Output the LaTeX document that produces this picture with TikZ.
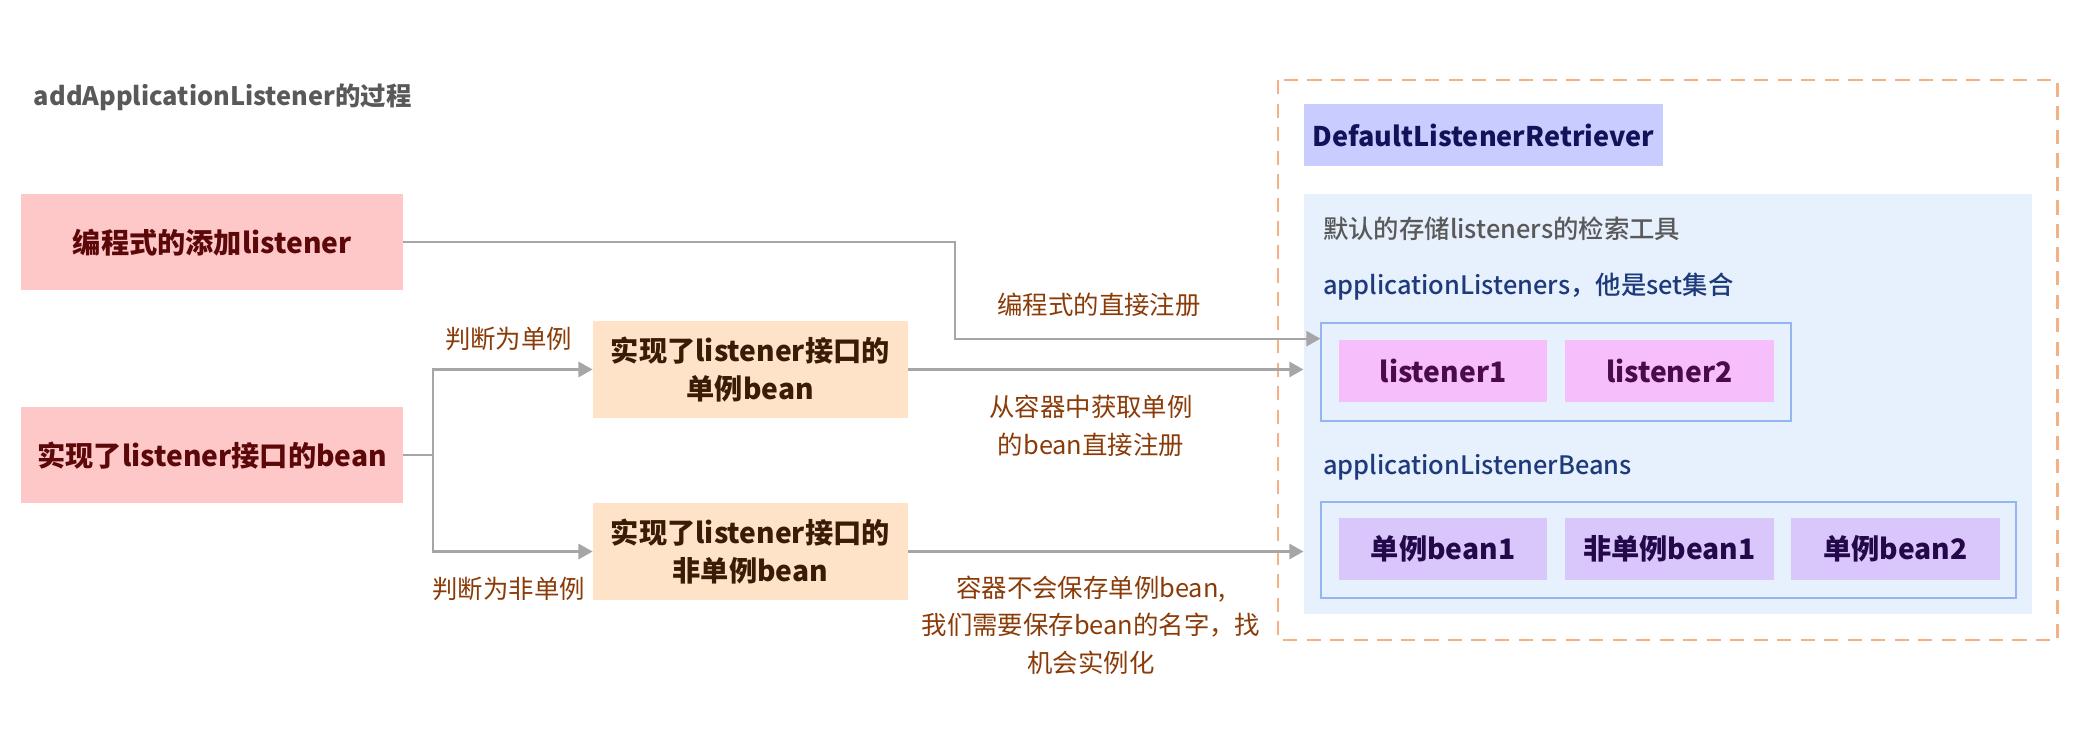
\documentclass[tikz,border=0pt]{standalone}
\usepackage{fontspec}
\setmainfont{Noto Sans CJK SC}
\newfontfamily\medfont{Noto Sans CJK SC Medium}
\usetikzlibrary{arrows.meta}

\definecolor{srcpink}{HTML}{FFC8C8}
\definecolor{srctext}{HTML}{5C0808}
\definecolor{beanpeach}{HTML}{FFE3C9}
\definecolor{beantext}{HTML}{3A1C06}
\definecolor{lblbrown}{HTML}{8A3B08}
\definecolor{wiregray}{HTML}{A6A6A6}
\definecolor{frameorange}{HTML}{F4B183}
\definecolor{retrfill}{HTML}{C9CCFF}
\definecolor{retrtext}{HTML}{12125A}
\definecolor{storefill}{HTML}{E7F0FD}
\definecolor{setborder}{HTML}{93B6F2}
\definecolor{lsnfill}{HTML}{F7BEFC}
\definecolor{lsntext}{HTML}{4B0A4B}
\definecolor{itemfill}{HTML}{D9C7FB}
\definecolor{itemtext}{HTML}{23084A}
\definecolor{notegray}{HTML}{595959}
\definecolor{fieldnavy}{HTML}{1D3A7A}

\tikzset{
  boxfont/.style={font=\fontsize{12}{16.5}\selectfont\bfseries},
  lblfont/.style={font=\fontsize{10.8}{15.9}\selectfont},
  srcbox/.style={boxfont,fill=srcpink,text=srctext,minimum width=5.7cm,minimum height=1.44cm,align=center},
  beanbox/.style={boxfont,fill=beanpeach,text=beantext,minimum width=4.7cm,minimum height=1.44cm,align=center},
  itembox/.style={boxfont,minimum width=3.12cm,minimum height=0.92cm},
  setbox/.style={draw=setborder,line width=0.8pt,fill=storefill,minimum height=1.46cm},
  wlabel/.style={lblfont,text=lblbrown,align=center},
  fieldtxt/.style={font=\fontsize{10.8}{15.9}\medfont,anchor=west,inner sep=0pt},
  conn/.style={draw=wiregray,line width=0.9pt,-{Triangle[width=6.5pt,length=6pt]}}
}

\begin{document}
\begin{tikzpicture}[x=0.02cm,y=-0.02cm]
\useasboundingbox (0,0) rectangle (1568,544);

\node[font=\fontsize{10.8}{15.9}\selectfont\bfseries,text=notegray,anchor=west,inner sep=0pt] (title) at (25,73) {addApplicationListener的过程};

% left side
\node[srcbox] (prog) at (158.5,181) {编程式的添加listener};
\node[srcbox] (impl) at (158.5,340) {实现了listener接口的bean};
\node[beanbox] (single) at (560.5,276) {实现了listener接口的\\单例bean};
\node[beanbox] (proto) at (560.5,412) {实现了listener接口的\\非单例bean};

% retriever
\draw[frameorange,line width=0.9pt,dash pattern=on 6pt off 4pt] (955,60) rectangle (1537,478);
\node[font=\fontsize{11.5}{15}\selectfont\bfseries,fill=retrfill,text=retrtext,inner xsep=2pt,minimum width=5.36cm,minimum height=0.92cm] (retr) at (1108,101) {DefaultListenerRetriever};
\node[fill=storefill,minimum width=10.88cm,minimum height=6.28cm] (store) at (1246,302) {};
\node[fieldtxt,text=notegray] (storenote) at (988,171) {默认的存储listeners的检索工具};
\node[fieldtxt,text=fieldnavy] (lsnname) at (988,214) {applicationListeners，他是set集合};
\node[setbox,minimum width=7.02cm] (lsnset) at (1162.5,278) {};
\node[itembox,fill=lsnfill,text=lsntext] (lsn1) at (1078,277) {listener1};
\node[itembox,fill=lsnfill,text=lsntext] (lsn2) at (1247,277) {listener2};
\node[fieldtxt,text=fieldnavy] (beanname) at (988,349) {applicationListenerBeans};
\node[setbox,minimum width=10.38cm,minimum height=1.44cm] (beanset) at (1246.5,411) {};
\node[itembox,fill=itemfill,text=itemtext] (bean1) at (1078,410) {单例bean1};
\node[itembox,fill=itemfill,text=itemtext] (bean2) at (1247,410) {非单例bean1};
\node[itembox,fill=itemfill,text=itemtext] (bean3) at (1416,410) {单例bean2};

% connectors
\draw[conn] (prog.east) -- ++(412,0) |- ([yshift=0.5cm]lsnset.west);
\draw[draw=wiregray,line width=0.9pt] (impl.east) -- ++(22,0) coordinate (fork);
\draw[conn] (fork) |- (single.west);
\draw[conn] (fork) |- (proto.west);
\draw[conn] (single.east) -- (single.east -| store.west);
\draw[conn] (proto.east) -- (proto.east -| store.west);

% labels
\node[wlabel] (lblsingle) at (380,253) {判断为单例};
\node[wlabel] (lblproto) at (380,440) {判断为非单例};
\node[wlabel] (lblprog) at (821,228) {编程式的直接注册};
\node[wlabel] (lblget) at (815,318) {从容器中获取单例\\的bean直接注册};
\node[wlabel] (lblname) at (815,467) {容器不会保存单例bean,\\我们需要保存bean的名字，找\\机会实例化};
\end{tikzpicture}
\end{document}
